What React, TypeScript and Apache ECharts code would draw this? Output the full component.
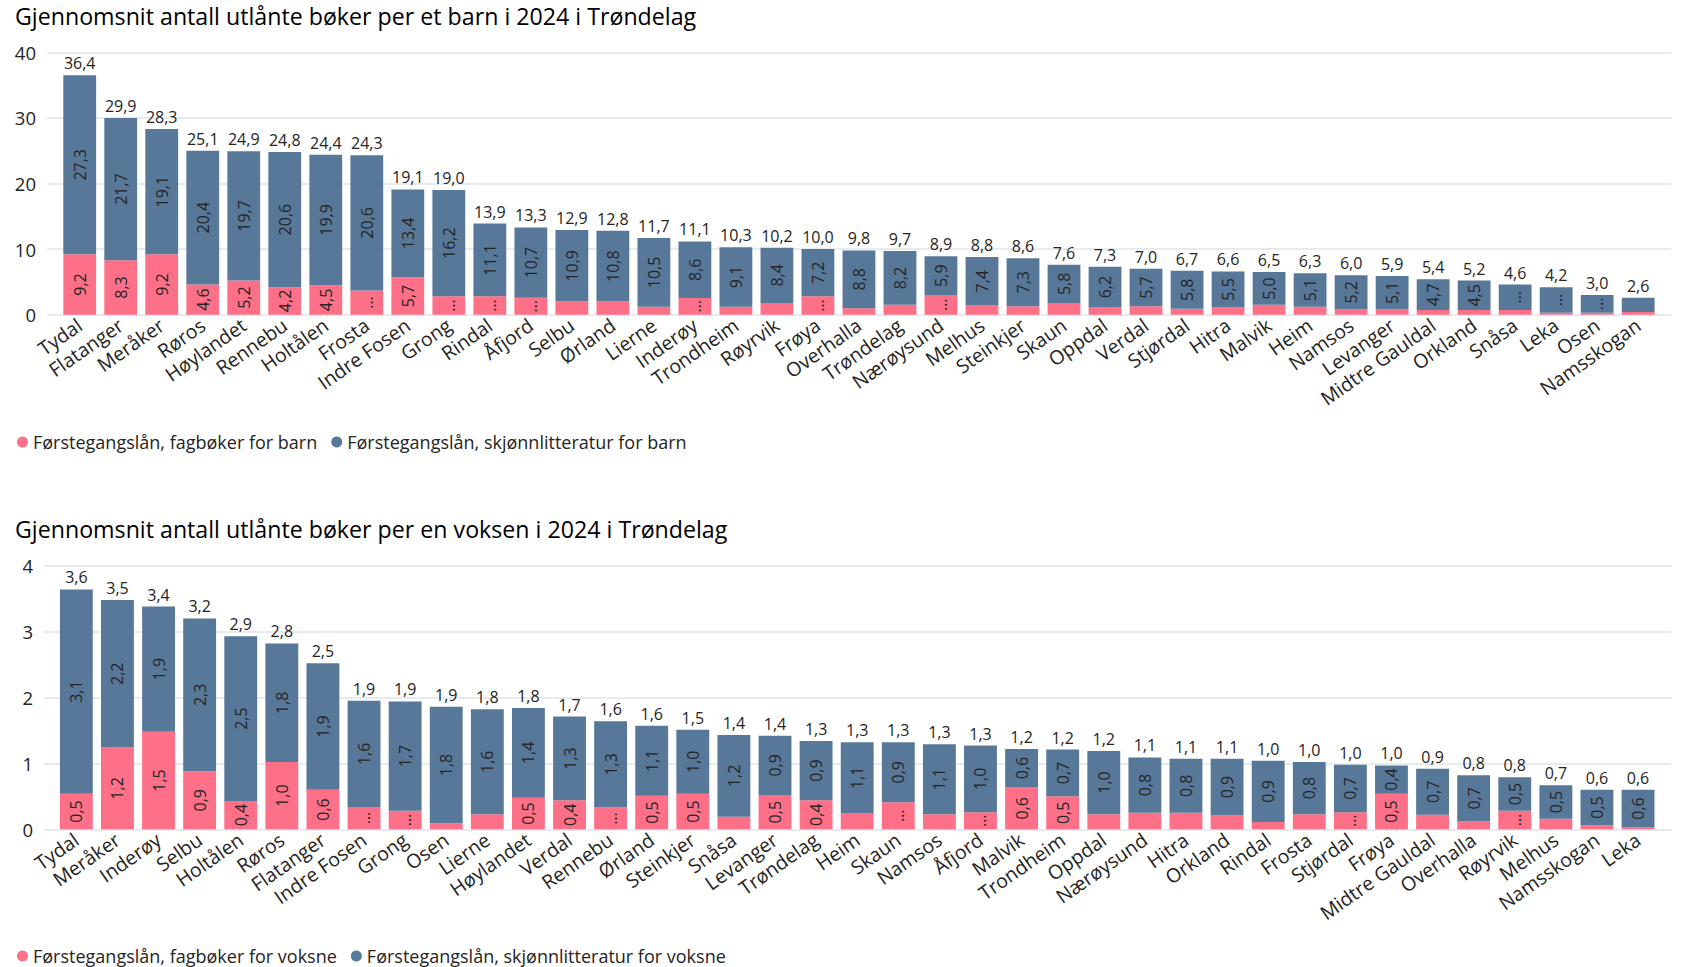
import React, { useEffect, useRef } from "react";
import * as echarts from "echarts";

const W = 1686;
const H = 967;

const PINK = "#FD7087";
const BLUE = "#587899";
const TEXT = "#252423";
const GRID = "#E8EBEE";
const FONT = "'Open Sans', Lato, sans-serif";

// ---- Barn ----
const kidsCategories = [
  "Tydal", "Flatanger", "Meråker", "Røros", "Høylandet", "Rennebu", "Holtålen", "Frosta",
  "Indre Fosen", "Grong", "Rindal", "Åfjord", "Selbu", "Ørland", "Lierne", "Inderøy",
  "Trondheim", "Røyrvik", "Frøya", "Overhalla", "Trøndelag", "Nærøysund", "Melhus",
  "Steinkjer", "Skaun", "Oppdal", "Verdal", "Stjørdal", "Hitra", "Malvik", "Heim",
  "Namsos", "Levanger", "Midtre Gauldal", "Orkland", "Snåsa", "Leka", "Osen", "Namsskogan",
];
const kidsFag = [
  9.2, 8.3, 9.2, 4.6, 5.2, 4.2, 4.5, 3.7, 5.7, 2.8, 2.8, 2.6, 2.0, 2.0, 1.2, 2.56, 1.2, 1.8,
  2.8, 1.0, 1.5, 3.0, 1.4, 1.3, 1.8, 1.1, 1.3, 0.9, 1.1, 1.5, 1.2, 0.8, 0.8, 0.7, 0.7, 0.7,
  0.3, 0.3, 0.4,
];
const kidsSkjonn = [
  27.3, 21.7, 19.1, 20.4, 19.7, 20.6, 19.9, 20.6, 13.4, 16.2, 11.1, 10.7, 10.9, 10.8, 10.5,
  8.6, 9.1, 8.4, 7.2, 8.8, 8.2, 5.9, 7.4, 7.3, 5.8, 6.2, 5.7, 5.8, 5.5, 5.0, 5.1, 5.2, 5.1,
  4.7, 4.5, 3.9, 3.9, 2.7, 2.2,
];
const kidsTotal = [
  36.4, 29.9, 28.3, 25.1, 24.9, 24.8, 24.4, 24.3, 19.1, 19.0, 13.9, 13.3, 12.9, 12.8, 11.7,
  11.1, 10.3, 10.2, 10.0, 9.8, 9.7, 8.9, 8.8, 8.6, 7.6, 7.3, 7.0, 6.7, 6.6, 6.5, 6.3, 6.0,
  5.9, 5.4, 5.2, 4.6, 4.2, 3.0, 2.6,
];
const kidsTicks = [0, 10, 20, 30, 40];

// ---- Voksne ----
const adultCategories = [
  "Tydal", "Meråker", "Inderøy", "Selbu", "Holtålen", "Røros", "Flatanger", "Indre Fosen",
  "Grong", "Osen", "Lierne", "Høylandet", "Verdal", "Rennebu", "Ørland", "Steinkjer", "Snåsa",
  "Levanger", "Trøndelag", "Heim", "Skaun", "Namsos", "Åfjord", "Malvik", "Trondheim",
  "Oppdal", "Nærøysund", "Hitra", "Orkland", "Rindal", "Frosta", "Stjørdal", "Frøya",
  "Midtre Gauldal", "Overhalla", "Røyrvik", "Melhus", "Namsskogan", "Leka",
];
const adultFag = [
  0.54, 1.24, 1.48, 0.88, 0.43, 1.02, 0.6, 0.34, 0.28, 0.09, 0.23, 0.48, 0.44, 0.33, 0.51,
  0.54, 0.19, 0.52, 0.44, 0.24, 0.41, 0.23, 0.26, 0.64, 0.5, 0.23, 0.25, 0.25, 0.21, 0.11,
  0.23, 0.26, 0.54, 0.22, 0.12, 0.28, 0.16, 0.06, 0.03,
];
const adultSkjonn = [
  3.1, 2.24, 1.9, 2.32, 2.5, 1.8, 1.92, 1.61, 1.66, 1.77, 1.59, 1.36, 1.27, 1.31, 1.06, 0.97,
  1.24, 0.9, 0.9, 1.08, 0.91, 1.06, 1.01, 0.58, 0.71, 0.96, 0.84, 0.82, 0.86, 0.93, 0.79,
  0.72, 0.43, 0.7, 0.7, 0.51, 0.51, 0.54, 0.57,
];
const adultTotal = [
  3.6, 3.5, 3.4, 3.2, 2.9, 2.8, 2.5, 1.9, 1.9, 1.9, 1.8, 1.8, 1.7, 1.6, 1.6, 1.5, 1.4, 1.4,
  1.3, 1.3, 1.3, 1.3, 1.3, 1.2, 1.2, 1.2, 1.1, 1.1, 1.1, 1.0, 1.0, 1.0, 1.0, 0.9, 0.8, 0.8,
  0.7, 0.6, 0.6,
];
const adultTicks = [0, 1, 2, 3, 4];

const kidsTitle = "Gjennomsnit antall utlånte bøker per et barn i 2024 i Trøndelag";
const adultTitle = "Gjennomsnit antall utlånte bøker per en voksen i 2024 i Trøndelag";
const kidsNames = ["Førstegangslån, fagbøker for barn", "Førstegangslån, skjønnlitteratur for barn"];
const adultNames = ["Førstegangslån, fagbøker for voksne", "Førstegangslån, skjønnlitteratur for voksne"];

// layout
const K = { top: 52.3, height: 262.4, axisLeft: 47, axisRight: 1671, barLeft: 59.2, barRight: 1658.7 };
const A = { top: 565.7, height: 263.6, axisLeft: 44, axisRight: 1671, barLeft: 55.8, barRight: 1658.6 };

const fmt = (v: number) => v.toFixed(1).replace(".", ",");
const inner = (v: number, pxPerUnit: number) => {
  const px = v * pxPerUnit;
  if (px >= 27.3) return fmt(v);
  if (px >= 16.7) return "…";
  return "";
};

function buildChart(
  idx: number,
  L: typeof K,
  cats: string[],
  fag: number[],
  skj: number[],
  tot: number[],
  ticks: number[],
  names: string[],
  stack: string
) {
  const max = ticks[ticks.length - 1];
  const interval = ticks[1] - ticks[0];
  const ppu = L.height / max;
  const g0 = idx * 2;
  const g1 = idx * 2 + 1;
  const grids = [
    { left: L.axisLeft, top: L.top, width: L.axisRight - L.axisLeft, height: L.height },
    { left: L.barLeft, top: L.top, width: L.barRight - L.barLeft, height: L.height },
  ];
  const xAxes = [
    { gridIndex: g0, type: "category", data: cats, show: false },
    {
      gridIndex: g1,
      type: "category",
      data: cats,
      axisLine: { show: false },
      axisTick: { show: false },
      axisLabel: {
        interval: 0,
        rotate: 35,
        margin: 8,
        fontSize: 19.5,
        color: TEXT,
        fontFamily: FONT,
      },
    },
  ];
  const yAxes = [
    {
      gridIndex: g0,
      type: "value",
      min: 0,
      max,
      interval,
      axisLine: { show: false },
      axisTick: { show: false },
      splitLine: { show: true, lineStyle: { color: GRID, width: 2 } },
      axisLabel: { fontSize: 18.5, color: TEXT, fontFamily: FONT, margin: 11 },
    },
    { gridIndex: g1, type: "value", min: 0, max, interval, show: false },
  ];
  const insideLabel = (arr: number[]) => ({
    show: true,
    position: "inside",
    rotate: 90,
    fontSize: 16,
    color: TEXT,
    fontFamily: FONT,
    formatter: (p: any) => inner(arr[p.dataIndex], ppu),
  });
  const series = [
    {
      name: names[0],
      type: "bar",
      xAxisIndex: g1,
      yAxisIndex: g1,
      stack,
      data: fag,
      barCategoryGap: "20%",
      itemStyle: { color: PINK },
      label: insideLabel(fag),
    },
    {
      name: names[1],
      type: "bar",
      xAxisIndex: g1,
      yAxisIndex: g1,
      stack,
      data: skj,
      barCategoryGap: "20%",
      itemStyle: { color: BLUE },
      label: insideLabel(skj),
    },
    {
      name: stack + "Total",
      type: "bar",
      xAxisIndex: g1,
      yAxisIndex: g1,
      stack,
      data: tot.map(() => 0),
      barCategoryGap: "20%",
      silent: true,
      itemStyle: { color: "transparent" },
      label: {
        show: true,
        position: "top",
        distance: 4,
        fontSize: 16,
        color: TEXT,
        fontFamily: FONT,
        formatter: (p: any) => fmt(tot[p.dataIndex]),
      },
    },
  ];
  return { grids, xAxes, yAxes, series };
}

export default function App() {
  const ref = useRef<HTMLDivElement>(null);
  useEffect(() => {
    document.body.style.margin = "0";
    const chart = echarts.init(ref.current!, null, { renderer: "svg" });
    const k = buildChart(0, K, kidsCategories, kidsFag, kidsSkjonn, kidsTotal, kidsTicks, kidsNames, "kids");
    const a = buildChart(1, A, adultCategories, adultFag, adultSkjonn, adultTotal, adultTicks, adultNames, "adult");
    const legendBase = {
      left: 17,
      orient: "horizontal",
      icon: "circle",
      itemWidth: 11,
      itemHeight: 11,
      itemGap: 14,
      padding: 0,
      textStyle: { fontSize: 18, color: TEXT, fontFamily: FONT },
    };
    chart.setOption({
      animation: false,
      backgroundColor: "#ffffff",
      textStyle: { fontFamily: FONT },
      title: [
        { text: kidsTitle, left: 15, top: 4, padding: 0, textStyle: { fontSize: 23.2, fontWeight: "normal", color: "#000", fontFamily: FONT } },
        { text: adultTitle, left: 15, top: 517, padding: 0, textStyle: { fontSize: 23.2, fontWeight: "normal", color: "#000", fontFamily: FONT } },
      ],
      legend: [
        { ...legendBase, top: 433, data: kidsNames },
        { ...legendBase, top: 947, data: adultNames },
      ],
      grid: [...k.grids, ...a.grids],
      xAxis: [...k.xAxes, ...a.xAxes],
      yAxis: [...k.yAxes, ...a.yAxes],
      series: [...k.series, ...a.series],
    });
    return () => chart.dispose();
  }, []);
  return <div ref={ref} style={{ width: W, height: H }} />;
}
